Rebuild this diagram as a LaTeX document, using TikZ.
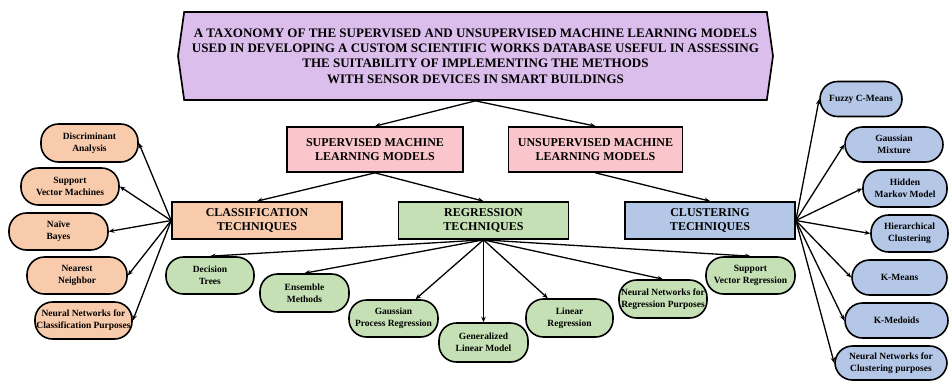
\documentclass[tikz,border=0pt]{standalone}
\usepackage{fontspec}
\setmainfont{Liberation Serif}
\usetikzlibrary{arrows.meta,shapes.symbols}

\definecolor{titlefill}{RGB}{220,190,236}
\definecolor{pinkfill}{RGB}{250,198,204}
\definecolor{orangefill}{RGB}{248,203,173}
\definecolor{greenfill}{RGB}{197,224,180}
\definecolor{bluefill}{RGB}{180,199,231}

\tikzset{
  titlebox/.style={draw, line width=1.7pt, fill=titlefill, signal,
    signal to=west and east, signal pointer angle=164,
    inner sep=0pt, align=center,
    font=\fontsize{13}{15.3}\selectfont\bfseries},
  catbox/.style={draw, line width=1.7pt, rectangle, inner sep=0pt,
    align=center, font=\fontsize{12}{14}\selectfont\bfseries},
  leaf/.style={draw, line width=1.6pt, rectangle, rounded corners=17.5pt,
    inner sep=0pt, align=center,
    font=\fontsize{9.5}{11.7}\selectfont\bfseries},
  link/.style={line width=1.3pt, -{Stealth[length=5.5pt,width=4.5pt]}},
}

\begin{document}
\begin{tikzpicture}[x=1pt,y=-1pt]
\useasboundingbox (0,0) rectangle (950,381);

% title
\node[titlebox, minimum width=595pt, minimum height=88pt] (top) at (475.5,56)
  {A TAXONOMY OF THE SUPERVISED AND UNSUPERVISED MACHINE LEARNING MODELS\\
   USED IN DEVELOPING A CUSTOM SCIENTIFIC WORKS DATABASE USEFUL IN ASSESSING\\
   THE SUITABILITY OF IMPLEMENTING THE METHODS\\
   WITH SENSOR DEVICES IN SMART BUILDINGS};

% learning paradigms
\node[catbox, fill=pinkfill, minimum width=176pt, minimum height=45pt] (sup) at (375,149.5)
  {SUPERVISED MACHINE\\LEARNING MODELS};
\node[catbox, fill=pinkfill, minimum width=174pt, minimum height=45pt] (uns) at (595.5,149.5)
  {UNSUPERVISED MACHINE\\LEARNING MODELS};

% technique families
\node[catbox, fill=orangefill, minimum width=170pt, minimum height=37pt] (cls) at (257,220.5)
  {CLASSIFICATION\\TECHNIQUES};
\node[catbox, fill=greenfill, minimum width=170pt, minimum height=37pt] (reg) at (483.5,220.5)
  {REGRESSION\\TECHNIQUES};
\node[catbox, fill=bluefill, minimum width=170pt, minimum height=37pt] (clu) at (710,220.5)
  {CLUSTERING\\TECHNIQUES};

% classification methods
\node[leaf, fill=orangefill, minimum width=97pt, minimum height=38pt] (da) at (89.5,143) {Discriminant\\Analysis};
\node[leaf, fill=orangefill, minimum width=98pt, minimum height=37pt] (svm) at (70,186.5) {Support\\Vector Machines};
\node[leaf, fill=orangefill, minimum width=99pt, minimum height=37pt] (nb) at (58.5,231.5) {Naïve\\Bayes};
\node[leaf, fill=orangefill, minimum width=100pt, minimum height=37pt] (nn) at (77,275.5) {Nearest\\Neighbor};
\node[leaf, fill=orangefill, minimum width=97pt, minimum height=37pt] (nnc) at (83.5,320.5) {Neural Networks for\\Classification Purposes};

% regression methods
\node[leaf, fill=greenfill, minimum width=88pt, minimum height=37pt] (dt) at (210,275.5) {Decision\\Trees};
\node[leaf, fill=greenfill, minimum width=89pt, minimum height=38pt] (em) at (304.5,293) {Ensemble\\Methods};
\node[leaf, fill=greenfill, minimum width=89pt, minimum height=37pt] (gpr) at (393.5,318.5) {Gaussian\\Process Regression};
\node[leaf, fill=greenfill, minimum width=89pt, minimum height=39pt] (glm) at (483.5,342.5) {Generalized\\Linear Model};
\node[leaf, fill=greenfill, minimum width=87pt, minimum height=38pt] (lr) at (569.5,318) {Linear\\Regression};
\node[leaf, fill=greenfill, minimum width=88pt, minimum height=38pt] (nnr) at (663,299) {Neural Networks for\\Regression Purposes};
\node[leaf, fill=greenfill, minimum width=89pt, minimum height=37pt] (svr) at (750.5,275.5) {Support\\Vector Regression};

% clustering methods
\node[leaf, fill=bluefill, minimum width=82pt, minimum height=35pt] (fcm) at (861,99) {Fuzzy C-Means};
\node[leaf, fill=bluefill, minimum width=98pt, minimum height=35pt] (gm) at (894,144.5) {Gaussian\\Mixture};
\node[leaf, fill=bluefill, minimum width=84pt, minimum height=37pt] (hmm) at (905,188.5) {Hidden\\Markov Model};
\node[leaf, fill=bluefill, minimum width=77pt, minimum height=37pt] (hc) at (909.5,233.5) {Hierarchical\\Clustering};
\node[leaf, fill=bluefill, minimum width=95pt, minimum height=35pt] (km) at (899.5,277.5) {K-Means};
\node[leaf, fill=bluefill, minimum width=103pt, minimum height=35pt] (kmd) at (896.5,320.5) {K-Medoids};
\node[leaf, fill=bluefill, minimum width=112pt, minimum height=34pt] (nncl) at (891,363) {Neural Networks for\\Clustering purposes};

% hierarchy links
\draw[link] (top.south) -- (sup.north);
\draw[link] (top.south) -- (uns.north);
\draw[link] (sup.south) -- (cls.north);
\draw[link] (sup.south) -- (reg.north);
\draw[link] (uns.south) -- (clu.north);

\foreach \n in {da,svm,nb,nn,nnc}
  \draw[link] (cls.west) -- (\n.east);

\draw[link] (reg.south) -- (dt.north);
\draw[link] (reg.south) -- (em.north);
\draw[link] (reg.south) -- (gpr);
\draw[link] (reg.south) -- (glm);
\draw[link] (reg.south) -- (lr);
\draw[link] (reg.south) -- (nnr.north);
\draw[link] (reg.south) -- (svr.north);

\foreach \n in {fcm,gm,hmm,hc,km,kmd,nncl}
  \draw[link] (clu.east) -- (\n.west);
\end{tikzpicture}
\end{document}
